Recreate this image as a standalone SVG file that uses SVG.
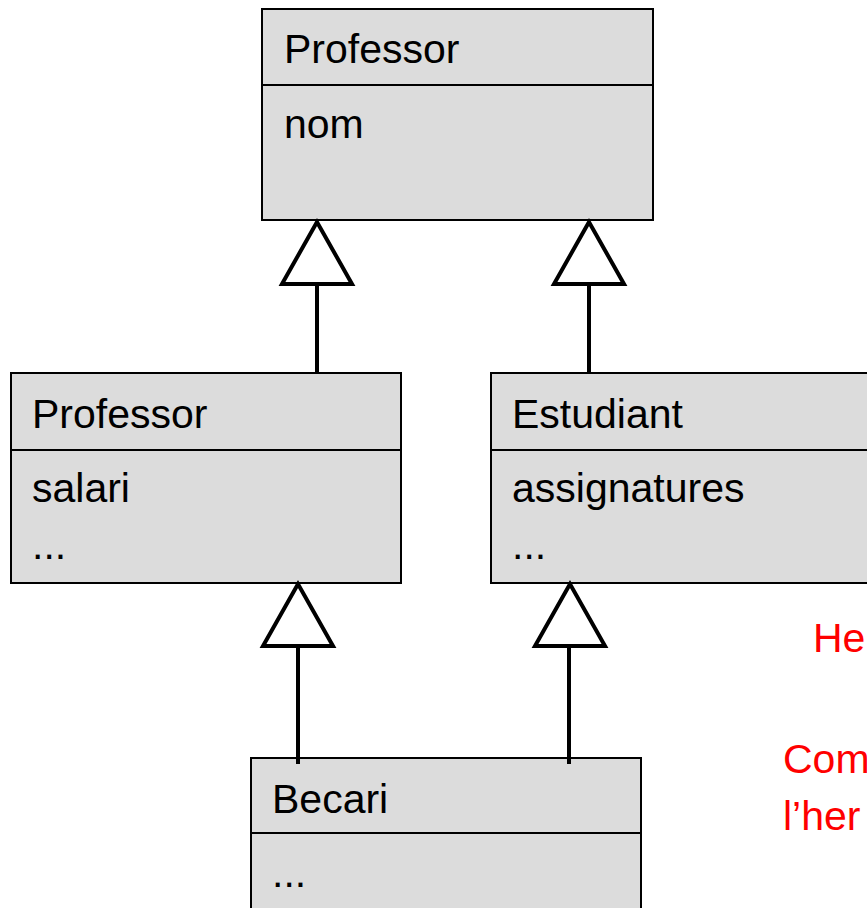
<svg xmlns="http://www.w3.org/2000/svg" width="867" height="908" viewBox="0 0 867 908">
  <style>
    .box { fill: #dcdcdc; stroke: #000; stroke-width: 2; }
    .sep { stroke: #000; stroke-width: 2; }
    .lbl { font-family: "Liberation Sans", Arial, sans-serif; font-size: 41px; fill: #000; }
    .note { font-family: "Liberation Sans", Arial, sans-serif; font-size: 41px; fill: #ff0000; }
    .edge { stroke: #000; stroke-width: 4; fill: none; }
    .head { stroke: #000; stroke-width: 4; fill: #fff; stroke-linejoin: miter; }
  </style>

  <!-- classes -->
  <g id="professor-base">
    <rect class="box" x="262" y="9" width="391" height="211"/>
    <line class="sep" x1="262" y1="85" x2="653" y2="85"/>
    <text class="lbl" x="284" y="63">Professor</text>
    <text class="lbl" x="284" y="138">nom</text>
  </g>

  <g id="professor">
    <rect class="box" x="11" y="373" width="390" height="210"/>
    <line class="sep" x1="11" y1="450" x2="401" y2="450"/>
    <text class="lbl" x="32" y="428">Professor</text>
    <text class="lbl" x="32" y="502">salari</text>
    <text class="lbl" x="32" y="559">...</text>
  </g>

  <g id="estudiant">
    <rect class="box" x="491" y="373" width="390" height="210"/>
    <line class="sep" x1="491" y1="450" x2="881" y2="450"/>
    <text class="lbl" x="512" y="428">Estudiant</text>
    <text class="lbl" x="512" y="502">assignatures</text>
    <text class="lbl" x="512" y="559">...</text>
  </g>

  <g id="becari">
    <rect class="box" x="251" y="758" width="390" height="160"/>
    <line class="sep" x1="251" y1="833" x2="641" y2="833"/>
    <text class="lbl" x="272" y="813">Becari</text>
    <text class="lbl" x="272" y="887">...</text>
  </g>

  <!-- generalization connectors -->
  <g id="connectors">
    <line class="edge" x1="317" y1="284" x2="317" y2="373"/>
    <path class="head" d="M317,222 L282,284 L352,284 Z"/>
    <line class="edge" x1="589" y1="284" x2="589" y2="373"/>
    <path class="head" d="M589,222 L554,284 L624,284 Z"/>
    <line class="edge" x1="298" y1="646" x2="298" y2="764"/>
    <path class="head" d="M298,584 L263,646 L333,646 Z"/>
    <line class="edge" x1="569" y1="646" x2="569" y2="764"/>
    <path class="head" d="M570,584 L535,646 L605,646 Z"/>
  </g>

  <!-- side notes -->
  <g id="notes">
    <text class="note" x="813" y="652">He</text>
    <text class="note" x="783" y="773">Com</text>
    <text class="note" x="783" y="830">l’her</text>
  </g>
</svg>
